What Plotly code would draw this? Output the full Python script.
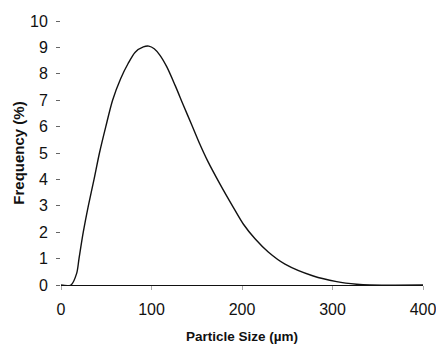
import plotly.graph_objects as go

# Particle size (µm) and frequency (%)
particle_size = [0, 11, 17.3, 19.9, 24.6, 30.2, 36.5, 42.5, 49.5, 57, 66, 74, 82,
                 91, 97, 103, 109.4, 116.8, 126, 135.1, 144.4, 153.6, 162,
                 175.7, 190.4, 201.4, 214.4, 229, 247.5, 278.8, 304.6, 326.7,
                 341.4, 400]
frequency = [0, 0, 0.44, 1.0, 2.0, 3.0, 4.0, 5.0, 6.0, 7.0, 7.82, 8.38, 8.82,
             9.02, 9.05, 8.95, 8.7, 8.27, 7.57, 6.82, 6.07, 5.32, 4.7,
             3.82, 2.94, 2.31, 1.75, 1.25, 0.79, 0.34, 0.13, 0.03,
             0, 0]

x_ticks = [0, 100, 200, 300, 400]
y_ticks = list(range(0, 11))

tick_font = dict(family="Liberation Sans Narrow, Arial Narrow, Liberation Sans, Arial",
                 size=16, color="#111")

fig = go.Figure()
fig.add_trace(go.Scatter(
    x=particle_size, y=frequency, mode="lines",
    line=dict(color="#111", width=1.4, shape="spline", smoothing=0.8),
    hoverinfo="skip", showlegend=False,
))

fig.update_layout(
    width=436, height=353,
    margin=dict(l=61, r=13, t=21, b=68),
    paper_bgcolor="white", plot_bgcolor="white",
    xaxis=dict(
        range=[0, 400], tickvals=x_ticks, ticktext=[str(v) for v in x_ticks],
        showline=True, linecolor="#111", linewidth=1.2, automargin=False,
        ticks="outside", ticklen=4, tickcolor="#aaa", tickwidth=1,
        ticklabelstandoff=6, ticklabeloverflow="allow",
        showgrid=False, zeroline=False, tickfont=tick_font,
        title=dict(text="<b>Particle Size (µm)</b>",
                   font=dict(family="Liberation Sans, Arial", size=13.5, color="#111"),
                   standoff=14),
    ),
    yaxis=dict(
        range=[0, 10], tickvals=y_ticks, ticktext=[str(v) for v in y_ticks],
        showline=False, ticks="outside", ticklen=4, tickcolor="#666", tickwidth=1,
        ticklabelstandoff=5, automargin=False, ticklabeloverflow="allow",
        showgrid=False, zeroline=False, tickfont=tick_font,
        title=dict(text="<b>Frequency (%)</b>",
                   font=dict(family="Liberation Sans, Arial", size=15, color="#111"),
                   standoff=1),
    ),
)

fig.write_html("out.html", config={"displayModeBar": False},
               post_script="document.body.style.margin='0';")
